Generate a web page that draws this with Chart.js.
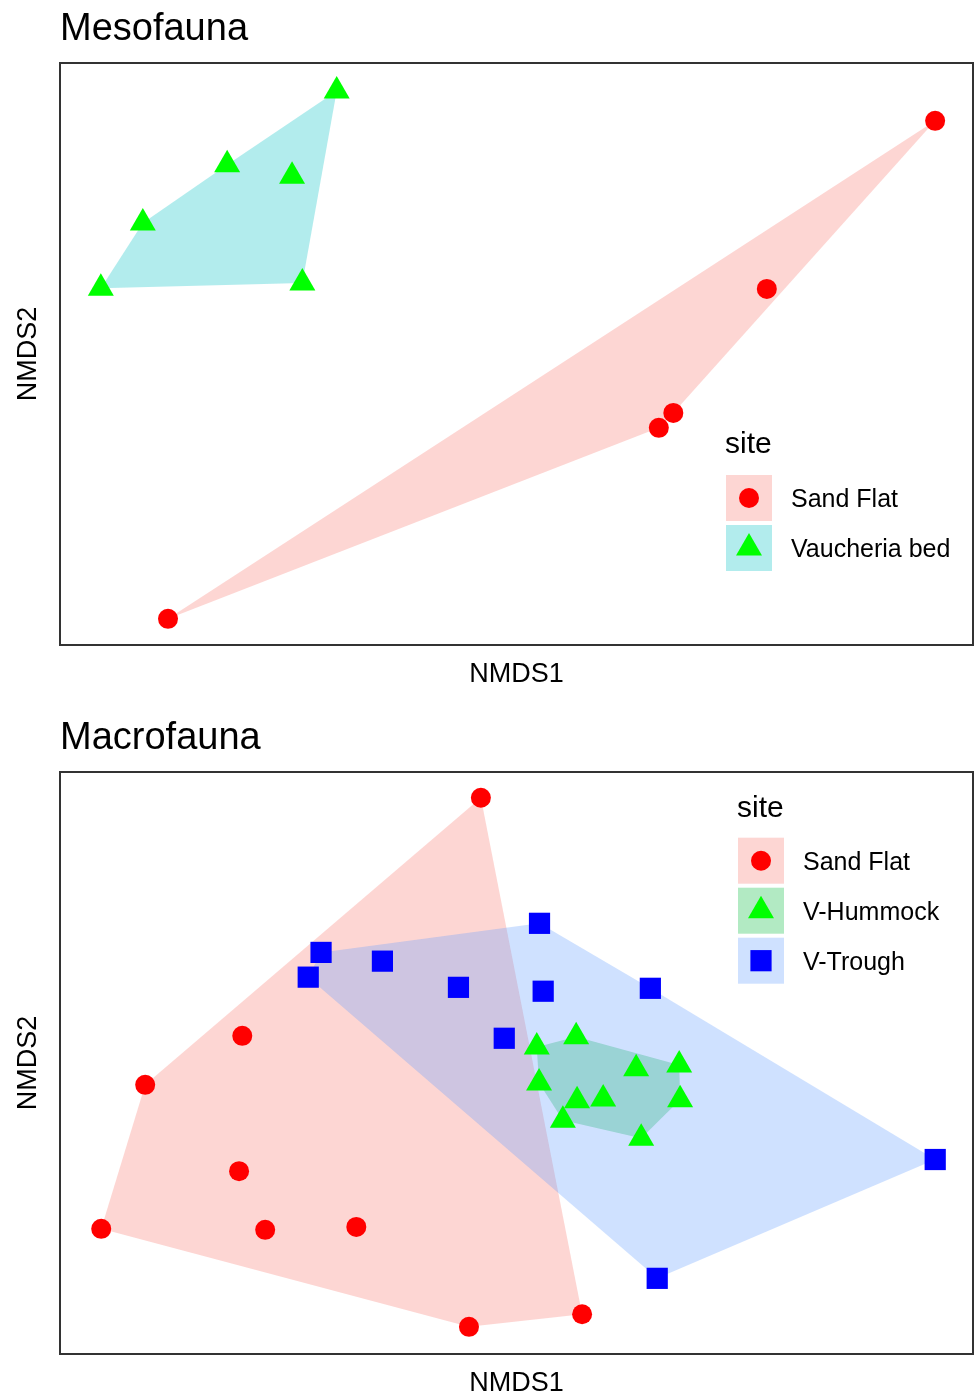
<!DOCTYPE html>
<html>
<head>
<meta charset="utf-8">
<script src="https://cdn.jsdelivr.net/npm/chart.js@4.4.1/dist/chart.umd.min.js"></script>
<style>
  html, body { margin: 0; padding: 0; background: #fff; width: 976px; height: 1393px; overflow: hidden; }
  canvas { display: block; }
</style>
</head>
<body>
<canvas id="meso" width="976" height="709"></canvas>
<canvas id="macro" width="976" height="709"></canvas>
<script>
// NMDS scores
const mesoSites = ['Sand Flat', 'Vaucheria bed'];
const mesoSandX = [1.093, 0.652, 0.407, 0.369, -0.917];
const mesoSandY = [0.641, 0.179, -0.162, -0.203, -0.728];
const mesoVauchX = [-0.475, -0.762, -0.592, -0.983, -1.093, -0.565];
const mesoVauchY = [0.723, 0.520, 0.489, 0.360, 0.181, 0.195];

const macroSites = ['Sand Flat', 'V-Hummock', 'V-Trough'];
const macroSandX = [-0.081, -0.602, -0.814, -0.609, -0.910, -0.552, -0.353, -0.107, 0.140];
const macroSandY = [0.547, 0.056, -0.045, -0.223, -0.342, -0.344, -0.338, -0.544, -0.518];
const macroHumX = [0.041, 0.127, 0.046, 0.258, 0.352, 0.129, 0.186, 0.354, 0.098, 0.269];
const macroHumY = [0.033, 0.054, -0.041, -0.012, -0.004, -0.078, -0.074, -0.076, -0.118, -0.155];
const macroTroughX = [0.047, -0.430, -0.296, -0.458, -0.130, 0.055, 0.289, -0.030, 0.911, 0.304];
const macroTroughY = [0.288, 0.228, 0.210, 0.177, 0.156, 0.148, 0.154, 0.051, -0.199, -0.444];

const FONT = '"Liberation Sans", Arial, Helvetica, sans-serif';

const styles = {
    'Sand Flat': { pointStyle: 'circle', radius: 10, color: '#ff0000', hull: 'rgba(248,118,109,0.3)' },
    'Vaucheria bed': { pointStyle: 'triangle', radius: 15, color: '#00ff00', hull: 'rgba(0,191,196,0.3)' },
    'V-Hummock': { pointStyle: 'triangle', radius: 15, color: '#00ff00', hull: 'rgba(0,186,56,0.3)' },
    'V-Trough': { pointStyle: 'rect', radius: 15, color: '#0000ff', hull: 'rgba(97,156,255,0.3)' }
};

function toPoints(xs, ys) {
    return xs.map((x, i) => ({ x: x, y: ys[i] }));
}

// monotone chain convex hull
function hull(pts) {
    const p = pts.slice().sort((a, b) => a.x - b.x || a.y - b.y);
    const cross = (o, a, b) => (a.x - o.x) * (b.y - o.y) - (a.y - o.y) * (b.x - o.x);
    const lower = [], upper = [];
    for (const q of p) {
        while (lower.length >= 2 && cross(lower[lower.length - 2], lower[lower.length - 1], q) <= 0) lower.pop();
        lower.push(q);
    }
    for (let i = p.length - 1; i >= 0; i--) {
        const q = p[i];
        while (upper.length >= 2 && cross(upper[upper.length - 2], upper[upper.length - 1], q) <= 0) upper.pop();
        upper.push(q);
    }
    upper.pop();
    lower.pop();
    return lower.concat(upper);
}

const hullPlugin = {
    id: 'hulls',
    beforeDatasetsDraw(chart) {
        const ctx = chart.ctx;
        const xs = chart.scales.x, ys = chart.scales.y;
        const area = chart.chartArea;
        ctx.save();
        ctx.beginPath();
        ctx.rect(area.left, area.top, area.right - area.left, area.bottom - area.top);
        ctx.clip();
        chart.data.datasets.forEach(ds => {
            const h = hull(ds.data);
            ctx.beginPath();
            h.forEach((pt, i) => {
                const px = xs.getPixelForValue(pt.x), py = ys.getPixelForValue(pt.y);
                if (i === 0) ctx.moveTo(px, py); else ctx.lineTo(px, py);
            });
            ctx.closePath();
            ctx.fillStyle = styles[ds.label].hull;
            ctx.fill();
        });
        ctx.restore();
    }
};

const panelPlugin = {
    id: 'panel',
    afterDraw(chart, args, opts) {
        const ctx = chart.ctx;
        const area = chart.chartArea;
        ctx.save();
        // panel frame
        ctx.strokeStyle = '#333333';
        ctx.lineWidth = 2;
        ctx.strokeRect(area.left, area.top, area.right - area.left, area.bottom - area.top);
        // title
        ctx.fillStyle = '#000';
        ctx.textBaseline = 'alphabetic';
        ctx.textAlign = 'left';
        ctx.font = '38px ' + FONT;
        ctx.fillText(opts.title, area.left, 40);
        // legend
        const lg = opts.legend;
        ctx.font = '30px ' + FONT;
        ctx.fillText('site', lg.x - 1, lg.titleY);
        ctx.font = '25px ' + FONT;
        ctx.textBaseline = 'middle';
        opts.sites.forEach((site, i) => {
            const st = styles[site];
            const top = lg.keyTop + i * 50;
            ctx.fillStyle = st.hull;
            ctx.fillRect(lg.x, top, 46, 46);
            ctx.fillStyle = st.color;
            Chart.helpers.drawPoint(ctx, { pointStyle: st.pointStyle, radius: st.radius, rotation: 0, borderWidth: 0 }, lg.x + 23, top + 23);
            ctx.fillStyle = '#000';
            ctx.fillText(site, lg.x + 65, top + 25);
        });
        ctx.restore();
    }
};

function makePanel(id, title, sites, series, xr, yr, legend) {
    const datasets = sites.map((site, i) => ({
        label: site,
        data: toPoints(series[i][0], series[i][1]),
        pointStyle: styles[site].pointStyle,
        pointRadius: styles[site].radius,
        pointHoverRadius: styles[site].radius,
        backgroundColor: styles[site].color,
        borderWidth: 0
    }));
    const axisTitle = (text, padding) => ({
        display: true, text: text, color: '#000',
        font: { family: FONT, size: 27 }, padding: padding
    });
    return new Chart(document.getElementById(id), {
        type: 'scatter',
        data: { datasets: datasets },
        options: {
            responsive: false,
            animation: false,
            layout: { autoPadding: false, padding: { left: 0, right: 3, top: 63, bottom: 13.8 } },
            plugins: {
                legend: { display: false },
                tooltip: { enabled: false },
                panel: { title: title, sites: sites, legend: legend }
            },
            scales: {
                x: {
                    type: 'linear', min: xr[0], max: xr[1],
                    grid: { display: false, drawTicks: false },
                    border: { display: false },
                    ticks: { display: false },
                    title: axisTitle('NMDS1', { top: 13.8, bottom: 4 })
                },
                y: {
                    type: 'linear', min: yr[0], max: yr[1],
                    grid: { display: false, drawTicks: false },
                    border: { display: false },
                    ticks: { display: false },
                    title: axisTitle('NMDS2', { top: 12.8, bottom: 14.8 })
                }
            }
        },
        plugins: [hullPlugin, panelPlugin]
    });
}

makePanel('meso', 'Mesofauna', mesoSites,
    [[mesoSandX, mesoSandY], [mesoVauchX, mesoVauchY]],
    [-1.2, 1.1922], [-0.8, 0.8],
    { x: 726, titleY: 453, keyTop: 475 });

makePanel('macro', 'Macrofauna', macroSites,
    [[macroSandX, macroSandY], [macroHumX, macroHumY], [macroTroughX, macroTroughY]],
    [-1.0, 0.9935], [-0.6, 0.6],
    { x: 738, titleY: 107.7, keyTop: 128.7 });
</script>
</body>
</html>
